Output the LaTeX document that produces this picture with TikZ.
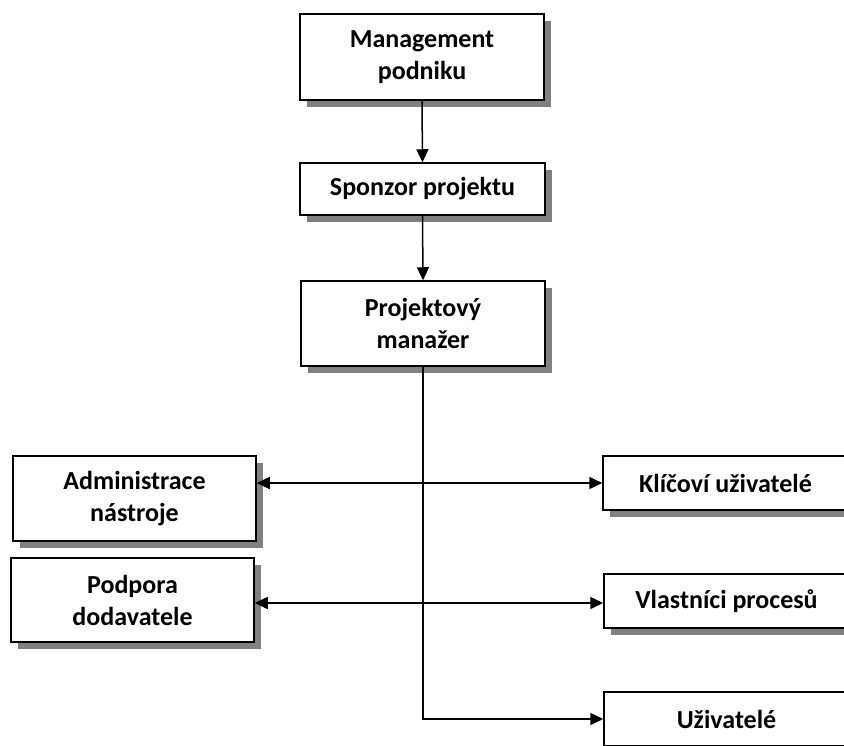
\documentclass[tikz,border=0pt]{standalone}
\usepackage{fontspec}
\setmainfont{Carlito}
\usetikzlibrary{arrows.meta,shadows}
\tikzset{
  box/.style={draw=black, line width=1.5pt, fill=white, align=center,
    font=\bfseries\fontsize{26}{32}\selectfont, inner sep=0pt,
    drop shadow={shadow xshift=7pt, shadow yshift=-7pt, fill=black!50, opacity=1}},
  conn/.style={line width=1.5pt, -{Triangle[length=13pt,width=12pt]}},
  biconn/.style={line width=1.5pt, {Triangle[length=13pt,width=12pt]}-{Triangle[length=13pt,width=12pt]}}
}
\begin{document}
\begin{tikzpicture}[x=1pt,y=-1pt]
\useasboundingbox (0,0) rectangle (844,745);
\node[box, minimum width=244pt, minimum height=86pt] (mgmt) at (422,57) {Management\\podniku};
\node[box, minimum width=245pt, minimum height=52pt] (spon) at (422.5,189) {Sponzor projektu};
\node[box, minimum width=244pt, minimum height=85pt] (man) at (423,323.5) {Projektový\\manažer};
\node[box, minimum width=243pt, minimum height=85pt] (adm) at (134.5,498.5) {Administrace\\nástroje};
\node[box, minimum width=243pt, minimum height=84pt] (pod) at (132.5,600) {Podpora\\dodavatele};
\node[box, minimum width=245pt, minimum height=54pt] (kl) at (725.5,483) {Klíčoví uživatelé};
\node[box, minimum width=245pt, minimum height=54pt] (vl) at (726.5,601) {Vlastníci procesů};
\node[box, minimum width=245pt, minimum height=54pt] (uz) at (726.5,719) {Uživatelé};
\draw[conn] (mgmt.south) -- (spon.north);
\draw[conn] (spon.south) -- (man.north);
\draw[biconn] (kl.west -| adm.east) -- (kl.west);
\draw[biconn] ([yshift=-2pt]vl.west -| pod.east) -- ([yshift=-2pt]vl.west);
\draw[conn] (man.south) |- (uz.west);
\end{tikzpicture}
\end{document}
